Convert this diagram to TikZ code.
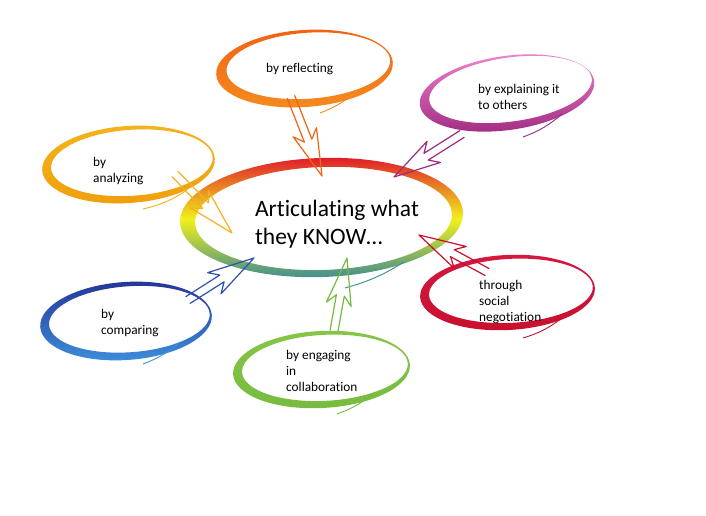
\documentclass[tikz,border=0pt]{standalone}
\usepackage{fontspec}
\setmainfont{Carlito}[Ligatures=NoCommon]
\usetikzlibrary{calc}

\definecolor{ringRed}{HTML}{E01F2B}
\definecolor{ringYel}{HTML}{F2F01A}
\definecolor{ringTeal}{HTML}{3C8A94}
\definecolor{reflA}{HTML}{F06414}
\definecolor{reflB}{HTML}{F68B1F}
\definecolor{explA}{HTML}{EC80C8}
\definecolor{explB}{HTML}{9E2A80}
\definecolor{analA}{HTML}{F5B21A}
\definecolor{analB}{HTML}{EEA00C}
\definecolor{compA}{HTML}{26379A}
\definecolor{compB}{HTML}{3D8FDB}
\definecolor{collA}{HTML}{86C545}
\definecolor{collB}{HTML}{76BB3F}
\definecolor{negoA}{HTML}{D41840}
\definecolor{negoB}{HTML}{C8102E}

\tikzset{
	bubble/.style={even odd rule},
	txt/.style={inner sep=0pt, align=left, anchor=west, font=\fontsize{13.3}{16}\selectfont},
	tail/.style={line width=0.9pt},
	hollow/.style={line width=1.2pt, line join=round, line cap=round,
		to path={let \p1=(\tikztostart), \p2=(\tikztotarget),
			\n1={atan2(\y2-\y1,\x2-\x1)} in
			($(\p1)+({\n1+90}:4pt)$) -- ($(\p2)+({\n1}:-38pt)+({\n1+90}:4pt)$)
			-- ($(\p2)+({\n1}:-47pt)+({\n1+90}:12.5pt)$) -- (\p2)
			-- ($(\p2)+({\n1}:-47pt)+({\n1-90}:12.5pt)$)
			-- ($(\p2)+({\n1}:-38pt)+({\n1-90}:4pt)$) -- ($(\p1)+({\n1-90}:4pt)$)}},
}

\begin{document}
\begin{tikzpicture}[x=1pt,y=-1pt]
	\fill[white] (0,0) rectangle (706,516);
	\useasboundingbox (0,0) rectangle (706,516);

	% centre ring
	\shade[bubble, top color=ringRed, bottom color=ringTeal, middle color=ringYel, rotate around={2:(321.5,217.5)}]
		(321.5,217.5) ellipse (141.5 and 59.5) (323.5,218.5) ellipse (128.5 and 51.5);
	\draw[tail, ringTeal] (345,288) to[bend right=8] (404,262);
	\node[font=\fontsize{23.5}{28.5}\selectfont, align=left, inner sep=0pt] (centre) at (337,224) {Articulating what\\they KNOW…};

	% by reflecting
	\shade[bubble, top color=reflA, bottom color=reflB, rotate around={4:(304.5,68.5)}]
		(304.5,68.5) ellipse (88.5 and 38.5) (308.5,66) ellipse (82 and 33);
	\draw[tail, reflB] (358,90) to[bend left=10] (320,113);
	\node[txt] (refl) at (266,69) {by reflecting};

	% by explaining it to others
	\shade[bubble, top color=explA, bottom color=explB, rotate around={8:(507,93)}]
		(507,93) ellipse (88 and 37) (511,90) ellipse (82 and 32);
	\draw[tail, explB] (562,114) to[bend left=10] (523,137);
	\node[txt] (expl) at (478,96.5) {by explaining it\\to others};

	% by analyzing
	\shade[bubble, top color=analA, bottom color=analB, rotate around={4:(128.5,164.5)}]
		(128.5,164.5) ellipse (86.5 and 38.5) (132,163) ellipse (81 and 33);
	\draw[tail, analA] (187,190) to[bend left=10] (143,209);
	\node[txt] (anal) at (93,171) {by\\analyzing};

	% by comparing
	\shade[bubble, top color=compA, bottom color=compB, rotate around={4:(126,321)}]
		(126,321) ellipse (86 and 39) (129.5,319.5) ellipse (80.5 and 33);
	\draw[tail, compB] (180,342) to[bend left=10] (143,364);
	\node[txt] (comp) at (101,323) {by\\comparing};

	% by engaging in collaboration
	\shade[bubble, top color=collA, bottom color=collB, rotate around={3:(321.5,369.5)}]
		(321.5,369.5) ellipse (88.5 and 38.5) (325,368) ellipse (83 and 33);
	\draw[tail, collB] (375,392) to[bend left=10] (337,414);
	\node[txt] (collab) at (286,371) {by engaging\\in\\collaboration};

	% through social negotiation
	\shade[bubble, top color=negoA, bottom color=negoB, rotate around={3:(507.5,292.5)}]
		(507.5,292.5) ellipse (87.5 and 37.5) (511,291) ellipse (82 and 32);
	\draw[tail, negoB] (562,318) to[bend left=10] (523,338);
	\node[txt] (negot) at (479,302) {through\\social\\negotiation};

	% arrows into the centre
	\coordinate (reflFrom) at (291,97);    \coordinate (reflTo) at (322,176);
	\coordinate (explFrom) at (462,134);   \coordinate (explTo) at (394,177);
	\coordinate (analFrom) at (175,174);   \coordinate (analTo) at (232,233);
	\coordinate (compFrom) at (188,300);   \coordinate (compTo) at (254,258);
	\coordinate (collabFrom) at (334,331); \coordinate (collabTo) at (347,258);
	\coordinate (negotFrom) at (487,272);  \coordinate (negotTo) at (419,235);
	\draw[hollow, reflA] (reflFrom) to (reflTo);
	\draw[hollow, explB] (explFrom) to (explTo);
	\draw[hollow, analA] (analFrom) to (analTo);
	\draw[hollow, compA!70!compB] (compFrom) to (compTo);
	\draw[hollow, collB] (collabFrom) to (collabTo);
	\draw[hollow, negoB] (negotFrom) to (negotTo);
\end{tikzpicture}
\end{document}
